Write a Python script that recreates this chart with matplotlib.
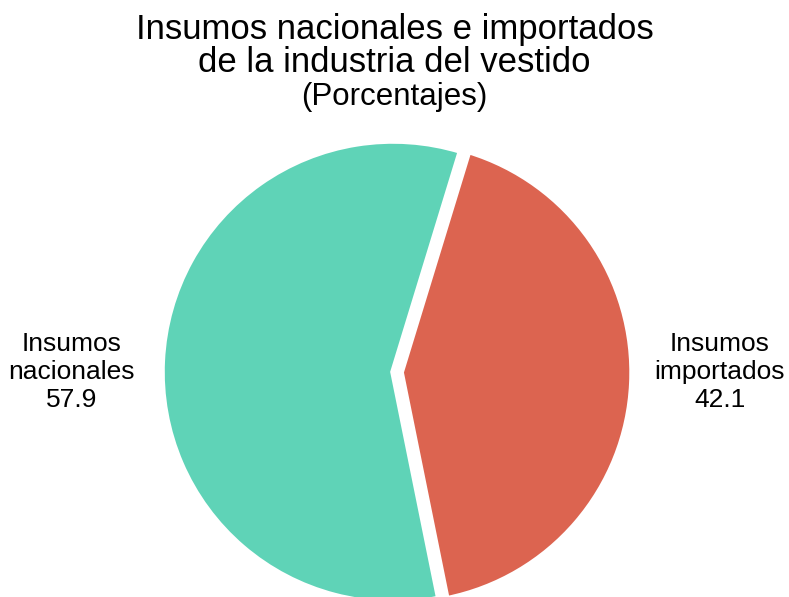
import matplotlib.pyplot as plt

plt.rcParams['font.family'] = ['Liberation Sans', 'DejaVu Sans']

categorias = ["Insumos\nnacionales", "Insumos\nimportados"]
porcentajes = [57.9, 42.1]
colores = ["#5fd3b7", "#dc6450"]
separacion = [0, 0.035]

W, H = 789, 597
fig = plt.figure(figsize=(W / 100, H / 100), dpi=100)

# pie centre and radius in pixels, axes limits +-1.1 data units
cx, cy, R = 393, 372, 231
lim = 1.1
half = R * lim
ax = fig.add_axes([(cx - half) / W, (H - cy - half) / H, 2 * half / W, 2 * half / H])

ax.pie(porcentajes, colors=colores, startangle=73, counterclock=True,
       explode=separacion, radius=1,
       wedgeprops=dict(edgecolor="white", linewidth=4, joinstyle="miter"))
ax.set_xlim(-lim, lim)
ax.set_ylim(-lim, lim)
ax.set_aspect("auto")
ax.axis("off")

# side labels, category over value
ax.text(-1.39, 0, f"{categorias[0]}\n{porcentajes[0]:.1f}", ha="center", va="center",
        fontsize=19, linespacing=1.2)
ax.text(1.415, 0, f"{categorias[1]}\n{porcentajes[1]:.1f}", ha="center", va="center",
        fontsize=19, linespacing=1.2)

fig.text(0.5, 1 - 46 / H, "Insumos nacionales e importados\nde la industria del vestido",
         ha="center", va="center", fontsize=25, linespacing=0.98)
fig.text(0.5, 1 - 97 / H, "(Porcentajes)", ha="center", va="center", fontsize=22.5)

fig.savefig("out.png", dpi=100)
